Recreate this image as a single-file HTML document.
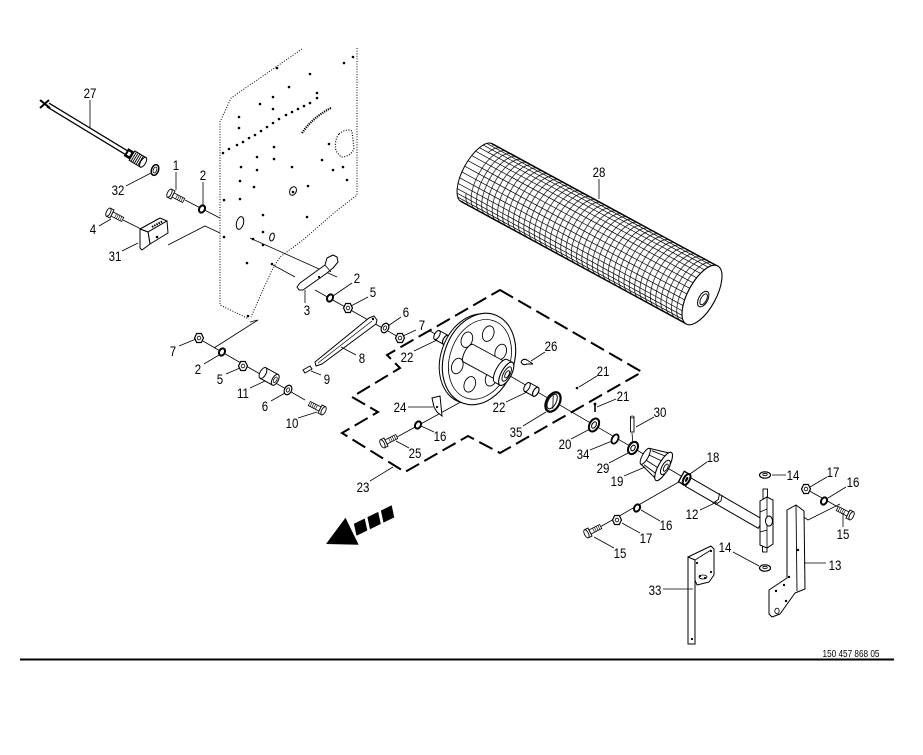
<!DOCTYPE html>
<html><head><meta charset="utf-8"><style>
html,body{margin:0;padding:0;background:#fff;}
svg{display:block;}
text{font-family:"Liberation Sans",Arial,sans-serif;font-size:14px;fill:#000;text-anchor:middle;transform-box:fill-box;transform-origin:center;transform:scaleX(.82);}
text.pn{font-size:10px;}
</style></head><body>
<svg width="923" height="755" viewBox="0 0 923 755" xmlns="http://www.w3.org/2000/svg" xmlns:xlink="http://www.w3.org/1999/xlink">
<defs>
<pattern id="mesh" patternUnits="userSpaceOnUse" x="0" y="-33" width="6" height="66">
<path d="M6,0a14 33 0 0 0 0 66M12,0a14 33 0 0 0 0 66M18,0a14 33 0 0 0 0 66" fill="none" stroke="#000" stroke-width=".7"/>
</pattern>
<g id="bolt">
<rect x="0" y="-2.3" width="12" height="4.6" fill="#fff" stroke="#000" stroke-width=".8"/>
<path d="M4,-2.3v4.6M6,-2.3v4.6M8,-2.3v4.6M10,-2.3v4.6" stroke="#000" stroke-width=".6"/>
<path d="M-4,-4.5h4v9h-4z" fill="#fff" stroke="#000" stroke-width=".9"/>
<ellipse cx="-4" cy="0" rx="2" ry="4.5" fill="#fff" stroke="#000" stroke-width=".9"/>
</g>
<g id="nut">
<polygon points="-4.5,0 -2.3,-4.5 2.3,-4.5 4.5,0 2.3,4.5 -2.3,4.5" fill="#fff" stroke="#000" stroke-width="1.2"/>
<circle r="1.8" fill="none" stroke="#000" stroke-width=".8"/>
</g>
<ellipse id="bw" rx="2.8" ry="3.8" fill="#fff" stroke="#000" stroke-width="2"/>
<g id="fw">
<ellipse rx="3.5" ry="5" fill="#fff" stroke="#000" stroke-width="1.2"/>
<ellipse rx="1.5" ry="2.2" fill="none" stroke="#000" stroke-width=".8"/>
</g>
<g id="sp">
<rect x="0" y="-5" width="10" height="10" fill="#fff" stroke="#000" stroke-width="1"/>
<ellipse cx="0" cy="0" rx="2.5" ry="5" fill="#fff" stroke="#000" stroke-width="1"/>
<ellipse cx="10" cy="0" rx="2.5" ry="5" fill="#fff" stroke="#000" stroke-width="1.2"/>
</g>
<g id="w14">
<ellipse rx="5.5" ry="3.2" fill="#fff" stroke="#000" stroke-width="1.2"/>
<ellipse cy="-.5" rx="2.2" ry="1.2" fill="#fff" stroke="#000" stroke-width=".8"/>
</g>
</defs>
<rect width="923" height="755" fill="#fff"/>

<!-- PANEL -->
<g fill="none" stroke="#000" stroke-width="1" stroke-dasharray="1 1.6">
<path d="M302,49 L231,98 L220,122 L220,305 L249,319"/>
<path d="M357,48 L357,195 L335,212 L303,240 L280,257 L272,270 L262,292 L251,317"/>
<path d="M302,133 Q313,117 331,108" stroke-width="2.2" stroke-dasharray="1.2 1"/>
<path d="M339,134 Q346,128 352,131 L354,149 Q350,157 341,157 L336,151 Q334,140 339,134Z" stroke-width="1.2"/>
</g>
<path fill="none" stroke="#000" stroke-width="2.6" stroke-linecap="round" d="M344,63h0M353,57h0M277,68h0M310,74h0M289,87h0M317,93h0M317,98h0M310,103h0M304,106h0M298,109h0M292,112h0M286,115h0M279,119h0M273,123h0M267,127h0M261,131h0M255,135h0M249,138h0M243,142h0M237,145h0M229,149h0M223,153h0M260,104h0M273,97h0M273,109h0M239,117h0M239,128h0M274,147h0M274,159h0M257,157h0M257,170h0M241,167h0M240,181h0M254,187h0M292,167h0M322,160h0M329,144h0M333,170h0M343,167h0M347,180h0M308,186h0M224,200h0M240,199h0M263,215h0M307,217h0M263,232h0M253,239h0M263,245h0M224,237h0M247,263h0M272,264h0M248,316h0M293,192h0"/>
<ellipse cx="293" cy="191" rx="3.2" ry="4.5" transform="rotate(25 293 191)" fill="none" stroke="#000" stroke-width="1"/>
<ellipse cx="240" cy="223" rx="3.5" ry="6.5" transform="rotate(15 240 223)" fill="none" stroke="#000" stroke-width="1"/>
<ellipse cx="272" cy="237" rx="2.2" ry="4" transform="rotate(15 272 237)" fill="none" stroke="#000" stroke-width="1"/>

<!-- assembly lines -->
<path fill="none" stroke="#000" stroke-width=".8" d="M185,200 L220,218 M123,220 L141,229 M168,245 L205,226 L220,233 M250,238 L337,277 M273,265 L295,277 M315,290 L402,339 M250,322 L258,320 L214,348 M196,337 L305,400 M430,331 L456,346 M505,373 L688,480 M468,398 L397,437 M684,479 L600,527 M806,489 L838,507 M840,504 L808,520 L795,511 M632,433 L633,444"/>

<!-- ROLLER 28 -->
<g transform="translate(702,295) rotate(28.5)">
<path fill="#fff" d="M0,-33 H-256 A14 33 0 0 0 -256,33 H0Z"/>
<rect x="-256" y="-33" width="256" height="66" fill="url(#mesh)"/>
<path fill="none" stroke="#000" stroke-width=".7" d="M-2.7,32.4h-256M-5.4,30.5h-256M-7.8,27.4h-256M-9.9,23.3h-256M-11.6,18.3h-256M-12.9,12.6h-256M-13.7,6.4h-256M-14,0h-256M-13.7,-6.4h-256M-12.9,-12.6h-256M-11.6,-18.3h-256M-9.9,-23.3h-256M-7.8,-27.4h-256M-5.4,-30.5h-256M-2.7,-32.4h-256"/>
<path fill="none" stroke="#000" stroke-width="1" d="M0,-33H-256M0,33H-256M-256,-33A14 33 0 0 0 -256,33"/>
<ellipse cx="0" cy="0" rx="14" ry="33" fill="#fff" stroke="#000" stroke-width="1.1"/>
<ellipse cx="3" cy="3" rx="4.5" ry="8.5" fill="#fff" stroke="#000" stroke-width="1"/>
<ellipse cx="3.5" cy="3" rx="2.8" ry="6" fill="#fff" stroke="#000" stroke-width=".9"/>
</g>

<!-- CABLE 27 -->
<path d="M48,105 L127,153" stroke="#000" stroke-width="5.5"/>
<path d="M48,105 L127,153" stroke="#fff" stroke-width="3"/>
<path d="M40,100 L50,108 M40,108 L49,100" stroke="#000" stroke-width="2"/>
<g transform="translate(126,152) rotate(31)">
<rect x="0" y="-4.5" width="7" height="9" fill="#000"/>
<rect x="2" y="-2" width="3" height="4" fill="#fff"/>
<rect x="7" y="-5.5" width="13" height="11" fill="#fff" stroke="#000" stroke-width="1"/>
<path d="M9,-5.5v11M11,-5.5v11M13,-5.5v11M15,-5.5v11M17,-5.5v11" stroke="#000" stroke-width=".9"/>
<ellipse cx="20" cy="0" rx="2.5" ry="5.5" fill="#fff" stroke="#000"/>
</g>
<ellipse cx="155" cy="170" rx="3.5" ry="5.5" transform="rotate(20 155 170)" fill="#fff" stroke="#000" stroke-width="1.5"/>
<ellipse cx="155" cy="170" rx="1.7" ry="3" transform="rotate(20 155 170)" fill="none" stroke="#000" stroke-width=".8"/>

<!-- BRACKET 31 -->
<g stroke="#000" stroke-width="1" fill="#fff" stroke-linejoin="round">
<polygon points="140,229 160,218 167,221 148,232"/>
<polygon points="148,232 167,221 168,233 150,244"/>
<polygon points="140,229 148,232 150,244 142,250 140,248"/>
</g>
<path d="M152,227 L163,221" stroke="#000" stroke-width="2" stroke-dasharray="1.5 1"/>
<circle cx="157" cy="237" r="1.3" fill="#000"/>

<!-- bolts -->
<use href="#bolt" transform="translate(173,195) rotate(27)"/>
<use href="#bolt" transform="translate(112,214) rotate(27)"/>
<use href="#bolt" transform="translate(320,409) rotate(207)"/>
<use href="#bolt" transform="translate(386,442) rotate(-27)"/>
<use href="#bolt" transform="translate(590,532) rotate(-27)"/>
<use href="#bolt" transform="translate(848,514) rotate(207)"/>

<!-- LEVER 3 -->
<polygon points="297,287 299,290 303,290 320,278 327,273 333,268 338,262 337,257 333,255 327,258 325,265 318,270 300,283" fill="#fff" stroke="#000" stroke-width="1" stroke-linejoin="round"/>
<path d="M325,265 L331,272" stroke="#000" stroke-width=".8"/>
<circle cx="319" cy="277" r="1.1" fill="#000"/>

<!-- ARM 8, piece 9 -->
<polygon points="369,318 374,316 377,320 376,324 322,364 316,366 315,362" fill="#fff" stroke="#000" stroke-width="1" stroke-linejoin="round"/>
<path d="M372,321 L318,363" stroke="#000" stroke-width=".7"/>
<circle cx="373" cy="319" r="1.2" fill="#000"/>
<polygon points="303,370 310,366 312,369 305,373" fill="#fff" stroke="#000" stroke-width="1"/>

<!-- spacer 11 -->
<g transform="translate(263,373) rotate(29)">
<rect x="0" y="-6" width="14" height="12" fill="#fff" stroke="#000" stroke-width="1"/>
<ellipse cx="0" cy="0" rx="3" ry="6" fill="#fff" stroke="#000" stroke-width="1"/>
<ellipse cx="14" cy="0" rx="3" ry="6" fill="#fff" stroke="#000" stroke-width="1"/>
<ellipse cx="14" cy="0" rx="1.5" ry="3" fill="none" stroke="#000" stroke-width=".8"/>
</g>
<use href="#sp" transform="translate(437,335) rotate(29)"/>

<!-- WHEEL -->
<g transform="translate(479,359) rotate(20)">
<ellipse cx="-4" cy="1" rx="34" ry="46" fill="#fff" stroke="#000" stroke-width="1"/>
<ellipse cx="0" cy="0" rx="35" ry="47" fill="#fff" stroke="#000" stroke-width="1.1"/>
<ellipse cx="1" cy="0" rx="30" ry="41" fill="none" stroke="#000" stroke-width=".8"/>
<g fill="#fff" stroke="#000" stroke-width=".9">
<ellipse cx="0" cy="-27" rx="5.5" ry="8"/>
<ellipse cx="18" cy="-14" rx="5.5" ry="8"/>
<ellipse cx="18" cy="14" rx="5.5" ry="8"/>
<ellipse cx="0" cy="27" rx="5.5" ry="8"/>
<ellipse cx="-18" cy="14" rx="5.5" ry="8"/>
<ellipse cx="-18" cy="-14" rx="5.5" ry="8"/>
</g>
</g>
<g transform="translate(479,359) rotate(28.5)">
<path d="M-12,-10 H25 V10 H-12 A4 10 0 0 1 -12,-10Z" fill="#fff" stroke="#000" stroke-width=".9"/>
<ellipse cx="25" cy="0" rx="5" ry="13" fill="#fff" stroke="#000" stroke-width="1"/>
<rect x="25" y="-13" width="6" height="26" fill="#fff"/>
<path d="M25,-13H31M25,13H31" stroke="#000" stroke-width="1"/>
<ellipse cx="31" cy="0" rx="5" ry="13" fill="#fff" stroke="#000" stroke-width="1.1"/>
<ellipse cx="31.5" cy="0" rx="3.2" ry="8" fill="none" stroke="#000" stroke-width=".9"/>
<ellipse cx="32" cy="0" rx="1.8" ry="4" fill="#fff" stroke="#000" stroke-width=".9"/>
</g>

<!-- 24, 26, 21 -->
<polygon points="432,398 440,396 442,416 437,412 434,407" fill="#fff" stroke="#000" stroke-width="1"/>
<circle cx="437" cy="407" r="1.1" fill="#000"/>
<path d="M521,362 Q523,358 527,360 L533,364 M521,362 Q523,366 527,364 L533,364" fill="none" stroke="#000" stroke-width="1"/>
<circle cx="577" cy="388" r="1.3" fill="#000"/>
<path d="M595,404 L595,412" stroke="#000" stroke-width="1.6"/>
<circle cx="595" cy="404" r="1.4" fill="#000"/>

<!-- spacer 22 lower, ring 35 -->
<use href="#sp" transform="translate(527,387) rotate(29)"/>
<g transform="translate(553,402) rotate(28.5)">
<ellipse cx="0" cy="0" rx="6.5" ry="10.5" fill="#fff" stroke="#000" stroke-width="2.2"/>
<ellipse cx="-1" cy="0" rx="4" ry="8" fill="none" stroke="#000" stroke-width="1"/>
<path d="M-3,-6 L3,6" stroke="#000" stroke-width=".8"/>
</g>

<!-- rings 20, 34, 29, pin 30 -->
<g transform="translate(594,425) rotate(28.5)">
<ellipse rx="4.5" ry="7" fill="#fff" stroke="#000" stroke-width="2"/>
<ellipse rx="2" ry="3.5" fill="none" stroke="#000" stroke-width="1"/>
</g>
<ellipse cx="615" cy="439" rx="3" ry="5" transform="rotate(28.5 615 439)" fill="#fff" stroke="#000" stroke-width="1.8"/>
<g transform="translate(633,448) rotate(28.5)">
<ellipse rx="4.5" ry="6.5" fill="#fff" stroke="#000" stroke-width="2"/>
<ellipse rx="2" ry="3" fill="none" stroke="#000" stroke-width="1"/>
</g>
<rect x="630.5" y="417" width="3.5" height="15" fill="#fff" stroke="#000" stroke-width=".9"/>
<ellipse cx="632.2" cy="417" rx="1.8" ry="1" fill="#fff" stroke="#000" stroke-width=".8"/>

<!-- hub 19 -->
<g transform="translate(661,465) rotate(29)">
<polygon points="-18,-9 0,-14 0,14 -18,9" fill="#fff" stroke="#000" stroke-width="1"/>
<ellipse cx="-18" cy="0" rx="3" ry="9" fill="#fff" stroke="#000" stroke-width="1"/>
<path d="M-15,-8 L0,-10 M-15,-3 L0,-4 M-15,3 L0,4 M-15,8 L0,10" stroke="#000" stroke-width=".9"/>
<ellipse cx="3" cy="0" rx="5" ry="16" fill="#fff" stroke="#000" stroke-width="1.1"/>
<ellipse cx="5" cy="0" rx="3.5" ry="8" fill="#fff" stroke="#000" stroke-width="1"/>
<ellipse cx="5.5" cy="0" rx="1.8" ry="4" fill="#fff" stroke="#000" stroke-width=".9"/>
</g>

<!-- shaft 12 and bearing 18 -->
<g transform="translate(688,482) rotate(30)">
<rect x="0" y="-5" width="84" height="10" fill="#fff" stroke="#000" stroke-width="1"/>
<path d="M33,-6 L35,0 L32,6 M36,-6 L38,0 L35,6" fill="#fff" stroke="#000" stroke-width=".9"/>
</g>
<g transform="translate(684,478) rotate(29)">
<rect x="-3" y="-6" width="6" height="12" fill="#fff" stroke="#000" stroke-width="1.3"/>
<ellipse cx="3" cy="0" rx="3" ry="6" fill="#fff" stroke="#000" stroke-width="2"/>
<ellipse cx="3" cy="0" rx="1.2" ry="2.8" fill="#000"/>
</g>
<rect x="763" y="489" width="4.5" height="10" fill="#fff" stroke="#000" stroke-width=".9"/>
<rect x="762.5" y="543" width="4.5" height="9" fill="#fff" stroke="#000" stroke-width=".9"/>
<polygon points="760,501 767,497 773,500 773,544 767,548 760,545" fill="#fff" stroke="#000" stroke-width="1"/>
<path d="M767,497 L767,548 M760,512 L767,509 M760,532 L767,530" stroke="#000" stroke-width=".8" fill="none"/>
<ellipse cx="769" cy="521" rx="3.5" ry="5" fill="#fff" stroke="#000" stroke-width="1"/>

<!-- washers 14 -->
<use href="#w14" transform="translate(765,475)"/>
<use href="#w14" transform="translate(765,568)"/>

<!-- bracket 13 -->
<polygon points="787,510 796,505 804,511 805,589 795,593 780,614 772,617 769,614 769,590 787,578" fill="#fff" stroke="#000" stroke-width="1" stroke-linejoin="round"/>
<path d="M787,510 L787,578 M796,506 L797,591" stroke="#000" stroke-width=".9" fill="none"/>
<path fill="none" stroke="#000" stroke-width="2.4" stroke-linecap="round" d="M798,550h0M789,577h0M784,585h0M776,591h0M786,601h0"/>
<ellipse cx="777" cy="611" rx="2.2" ry="2.8" fill="#fff" stroke="#000" stroke-width=".8"/>

<!-- bracket 33 -->
<polygon points="688,557 711,546 714,549 714,575 709,582 697,585 695,580" fill="#fff" stroke="#000" stroke-width="1" stroke-linejoin="round"/>
<polygon points="688,557 695,560 695,644 688,644" fill="#fff" stroke="#000" stroke-width="1"/>
<path d="M695,560 L711,550" stroke="#000" stroke-width=".8"/>
<path fill="none" stroke="#000" stroke-width="2.2" stroke-linecap="round" d="M697,563h0M711,551h0M711,572h0M700,576h0M705,578h0M692,639h0"/>
<ellipse cx="703" cy="577" rx="4" ry="2" fill="none" stroke="#000" stroke-width=".8"/>

<!-- nuts -->
<use href="#nut" transform="translate(348,308)"/>
<use href="#nut" transform="translate(400,338)"/>
<use href="#nut" transform="translate(199,338)"/>
<use href="#nut" transform="translate(243,366)"/>
<use href="#nut" transform="translate(617,520)"/>
<use href="#nut" transform="translate(806,489)"/>

<!-- black washers -->
<use href="#bw" transform="translate(202,209) rotate(28)"/>
<use href="#bw" transform="translate(330,298) rotate(28)"/>
<use href="#bw" transform="translate(222,352) rotate(28)"/>
<use href="#bw" transform="translate(418,425) rotate(28)"/>
<use href="#bw" transform="translate(637,508) rotate(28)"/>
<use href="#bw" transform="translate(824,501) rotate(28)"/>

<!-- flat washers 6 -->
<use href="#fw" transform="translate(385,328) rotate(28)"/>
<use href="#fw" transform="translate(288,390) rotate(28)"/>

<!-- dashed boundary 23 -->
<path d="M500,290 L642,372 L500,453 L468,436 L405,472 L342,433 L378,412 L352,397 L400,368 L387,355 Z" fill="none" stroke="#000" stroke-width="2" stroke-dasharray="15 6"/>

<!-- direction arrow -->
<g transform="translate(326,544) rotate(-26)" fill="#000">
<polygon points="0,0 29,-15 29,15"/>
<polygon points="31,6 43,6 46,-6 34,-6"/>
<polygon points="46,6 58,6 61,-6 49,-6"/>
<polygon points="61,6 73,6 76,-6 64,-6"/>
</g>

<!-- leaders -->
<path fill="none" stroke="#000" stroke-width=".8" d="M90,100 L90,128 M126,186 L151,173 M176,172 L176,190 M203,182 L203,206 M99,226 L111,219 M122,251 L138,243 M352,283 L333,296 M305,290 L305,303 M368,297 L351,306 M401,317 L388,326 M416,330 L403,336 M414,351 L437,340 M356,355 L341,347 M321,375 L311,371 M179,346 L196,339 M204,364 L219,355 M226,374 L240,368 M250,388 L265,381 M271,401 L285,393 M298,418 L317,412 M545,352 L531,361 M597,376 L579,387 M616,399 L597,407 M654,417 L636,427 M408,407 L433,407 M506,402 L527,392 M523,426 L546,412 M434,432 L421,426 M409,448 L396,441 M571,439 L590,429 M590,450 L612,441 M609,463 L630,452 M624,476 L645,467 M707,462 L690,474 M370,481 L393,467 M599,179 L599,199 M772,475 L786,475 M827,477 L810,487 M846,487 L828,498 M843,527 L843,513 M700,510 L717,502 M660,521 L641,510 M640,533 L622,523 M614,548 L594,537 M733,552 L759,566 M804,563 L826,563 M663,589 L693,589"/>

<!-- labels -->
<text x="90" y="98">27</text><text x="118" y="195">32</text><text x="176" y="170">1</text><text x="203" y="180">2</text>
<text x="93" y="234">4</text><text x="115" y="261">31</text><text x="357" y="283">2</text><text x="307" y="315">3</text>
<text x="373" y="297">5</text><text x="406" y="317">6</text><text x="422" y="330">7</text><text x="407" y="362">22</text>
<text x="362" y="363">8</text><text x="327" y="384">9</text><text x="173" y="356">7</text><text x="198" y="374">2</text>
<text x="220" y="384">5</text><text x="243" y="398">11</text><text x="265" y="411">6</text><text x="292" y="428">10</text>
<text x="551" y="351">26</text><text x="603" y="376">21</text><text x="623" y="401">21</text><text x="660" y="417">30</text>
<text x="400" y="412">24</text><text x="499" y="412">22</text><text x="516" y="437">35</text><text x="440" y="441">16</text>
<text x="415" y="458">25</text><text x="565" y="449">20</text><text x="583" y="459">34</text><text x="603" y="473">29</text>
<text x="617" y="486">19</text><text x="713" y="462">18</text><text x="363" y="492">23</text><text x="599" y="177">28</text>
<text x="793" y="480">14</text><text x="833" y="477">17</text><text x="853" y="487">16</text><text x="843" y="539">15</text>
<text x="692" y="519">12</text><text x="666" y="530">16</text><text x="646" y="543">17</text><text x="620" y="558">15</text>
<text x="725" y="552">14</text><text x="835" y="570">13</text><text x="655" y="595">33</text>

<!-- bottom rule and part number -->
<line x1="20" y1="659.5" x2="894" y2="659.5" stroke="#000" stroke-width="2"/>
<text class="pn" x="851" y="657">150 457 868 05</text>
</svg>
</body></html>
